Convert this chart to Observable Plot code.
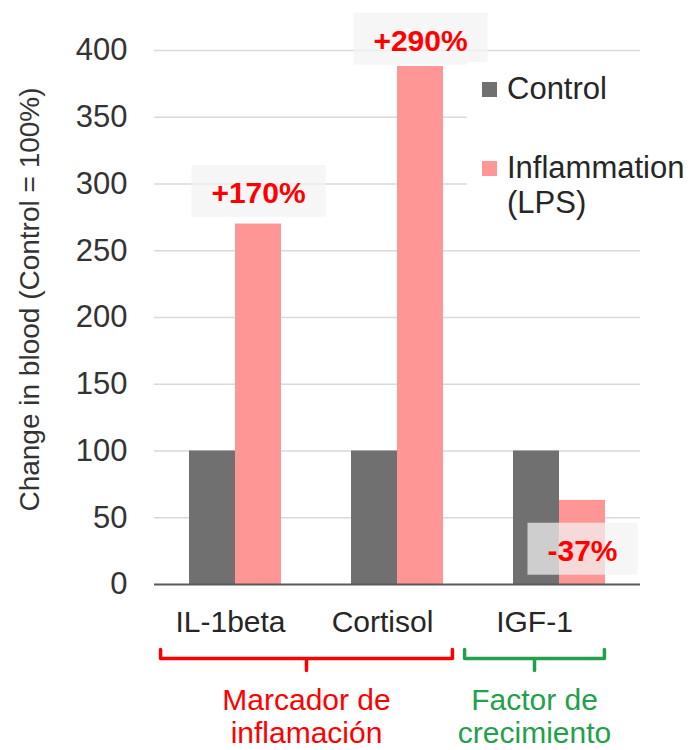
<!DOCTYPE html>
<html>
<head>
<meta charset="utf-8">
<script src="https://cdn.jsdelivr.net/npm/d3@7"></script>
<script src="https://cdn.jsdelivr.net/npm/@observablehq/plot@0.6"></script>
<style>
  html, body { margin: 0; padding: 0; background: #fff; }
  #wrap { position: relative; width: 692px; height: 750px; overflow: hidden;
          font-family: "Liberation Sans", Arial, sans-serif; }
  #wrap svg { display: block; }
  #legend { position: absolute; left: 467px; top: 62px; width: 225px; height: 172px; background: #fff; }
  #legend .item { position: absolute; left: 0; width: 225px; }
  #legend .sw { position: absolute; left: 15px; top: 11px; width: 15px; height: 15px; }
  #legend .lab { position: absolute; left: 40px; top: 0; width: 184px; font-size: 31px; line-height: 35px; color: #262626; }
</style>
</head>
<body>
<div id="wrap"></div>
<script>
// ---- data ----
const categories = ["IL-1beta", "Cortisol", "IGF-1"];
const seriesNames = ["Control", "Inflammation (LPS)"];
const controlValues = [100, 100, 100];
const inflammationValues = [270, 388, 63];
const changeLabels = ["+170%", "+290%", "-37%"];
const changeLabelValues = [293, 407, 25];
const yTicks = [0, 50, 100, 150, 200, 250, 300, 350, 400];
const yLabel = "Change in blood (Control = 100%)";
const groupLabels = ["Marcador de\ninflamación", "Factor de\ncrecimiento"];
const groupFirst = ["IL-1beta", "IGF-1"];
const groupLast = ["Cortisol", "IGF-1"];

// ---- styles ----
const seriesColors = ["#707070", "#ff9696"];
const groupColors = ["#ff0000", "#22a04c"];
const font = "Liberation Sans, Arial, sans-serif";

const bars = categories.flatMap((c, i) => [
  {category: c, series: seriesNames[0], value: controlValues[i]},
  {category: c, series: seriesNames[1], value: inflammationValues[i]}
]);
const notes = categories.map((c, i) => ({category: c, label: changeLabels[i], value: changeLabelValues[i]}));

const main = Plot.plot({
  width: 692, height: 600,
  marginTop: 50, marginBottom: 16, marginLeft: 154, marginRight: 52,
  style: {fontFamily: font, fontSize: "30px", color: "#333", background: "transparent"},
  x: {domain: categories, padding: 0, axis: null},
  y: {domain: [0, 400]},
  color: {domain: seriesNames, range: seriesColors},
  marks: [
    Plot.gridY(yTicks.filter(d => d > 0), {stroke: "#d9d9d9", strokeOpacity: 1, strokeWidth: 1.5}),
    Plot.axisY(yTicks, {tickSize: 0, tickPadding: 27, fontSize: 31, label: null, fill: "#333"}),
    Plot.text([yLabel], {frameAnchor: "left", textAnchor: "middle", rotate: -90, dx: -124, dy: -18, fontSize: 28, fill: "#333"}),
    Plot.barY(bars.filter(d => d.series === seriesNames[0]), {x: "category", y: "value", fill: "series", insetLeft: 35, insetRight: 81}),
    Plot.barY(bars.filter(d => d.series === seriesNames[1]), {x: "category", y: "value", fill: "series", insetLeft: 81, insetRight: 35}),
    Plot.ruleY([0], {stroke: "#595959", strokeWidth: 2}),
    Plot.text(notes, {x: "category", y: "value", text: "label", dx: 23, fill: "#ff0000", fontWeight: "bold", fontSize: 30})
  ]
});

const groups = groupLabels.map((name, i) => ({
  name, color: groupColors[i],
  from: categories.indexOf(groupFirst[i]),
  to: categories.indexOf(groupLast[i])
}));
const bracketPoints = groups.flatMap(g => {
  const a = g.from - 0.46, b = g.to + 0.46, m = (g.from + g.to) / 2;
  return [[a, 49], [a, 58], [m, 58], [m, 70], [m, 58], [b, 58], [b, 49]]
    .map(([x, y]) => ({group: g.name, x, y}));
});

const bottom = Plot.plot({
  width: 692, height: 150,
  marginTop: 0, marginBottom: 0, marginLeft: 154, marginRight: 82,
  style: {fontFamily: font, fontSize: "30px", color: "#333", background: "transparent"},
  x: {domain: [-0.5, categories.length - 0.5], axis: null},
  y: {domain: [0, 150], range: [0, 150], axis: null},
  color: {domain: groupLabels, range: groupColors},
  marks: [
    Plot.text(categories, {x: (d, i) => i, y: () => 22, text: d => d, fontSize: 30, fill: "#262626"}),
    Plot.line(bracketPoints, {x: "x", y: "y", z: "group", stroke: "group", strokeWidth: 3.5, strokeLinejoin: "round", strokeLinecap: "round"}),
    Plot.text(groups, {x: g => (g.from + g.to) / 2, y: () => 86, text: "name", fill: "name", lineAnchor: "top", lineHeight: 1.1, fontSize: 30})
  ]
});

const wrap = document.getElementById("wrap");
wrap.appendChild(main);
wrap.appendChild(bottom);

// background boxes behind the change labels
const noteTexts = [];
d3.select(main).selectAll("text").each(function () {
  if (changeLabels.includes(this.textContent)) noteTexts.push(this);
});
noteTexts.forEach(t => {
  const b = t.getBBox();
  const parent = t.parentNode;
  const r = document.createElementNS("http://www.w3.org/2000/svg", "rect");
  r.setAttribute("x", b.x - 20);
  r.setAttribute("y", b.y - 11);
  r.setAttribute("width", b.width + 40);
  r.setAttribute("height", b.height + 19);
  r.setAttribute("fill", "#f2f2f2");
  r.setAttribute("fill-opacity", 0.72);
  r.setAttribute("stroke", "none");
  if (t.getAttribute("transform")) r.setAttribute("transform", t.getAttribute("transform"));
  parent.insertBefore(r, parent.firstChild);
});

// legend
const legend = d3.select(wrap).append("div").attr("id", "legend");
seriesNames.forEach((name, i) => {
  const item = legend.append("div").attr("class", "item").style("top", (9 + i * 79) + "px");
  item.append("span").attr("class", "sw").style("background", seriesColors[i]);
  item.append("span").attr("class", "lab").text(name);
});
</script>
</body>
</html>
